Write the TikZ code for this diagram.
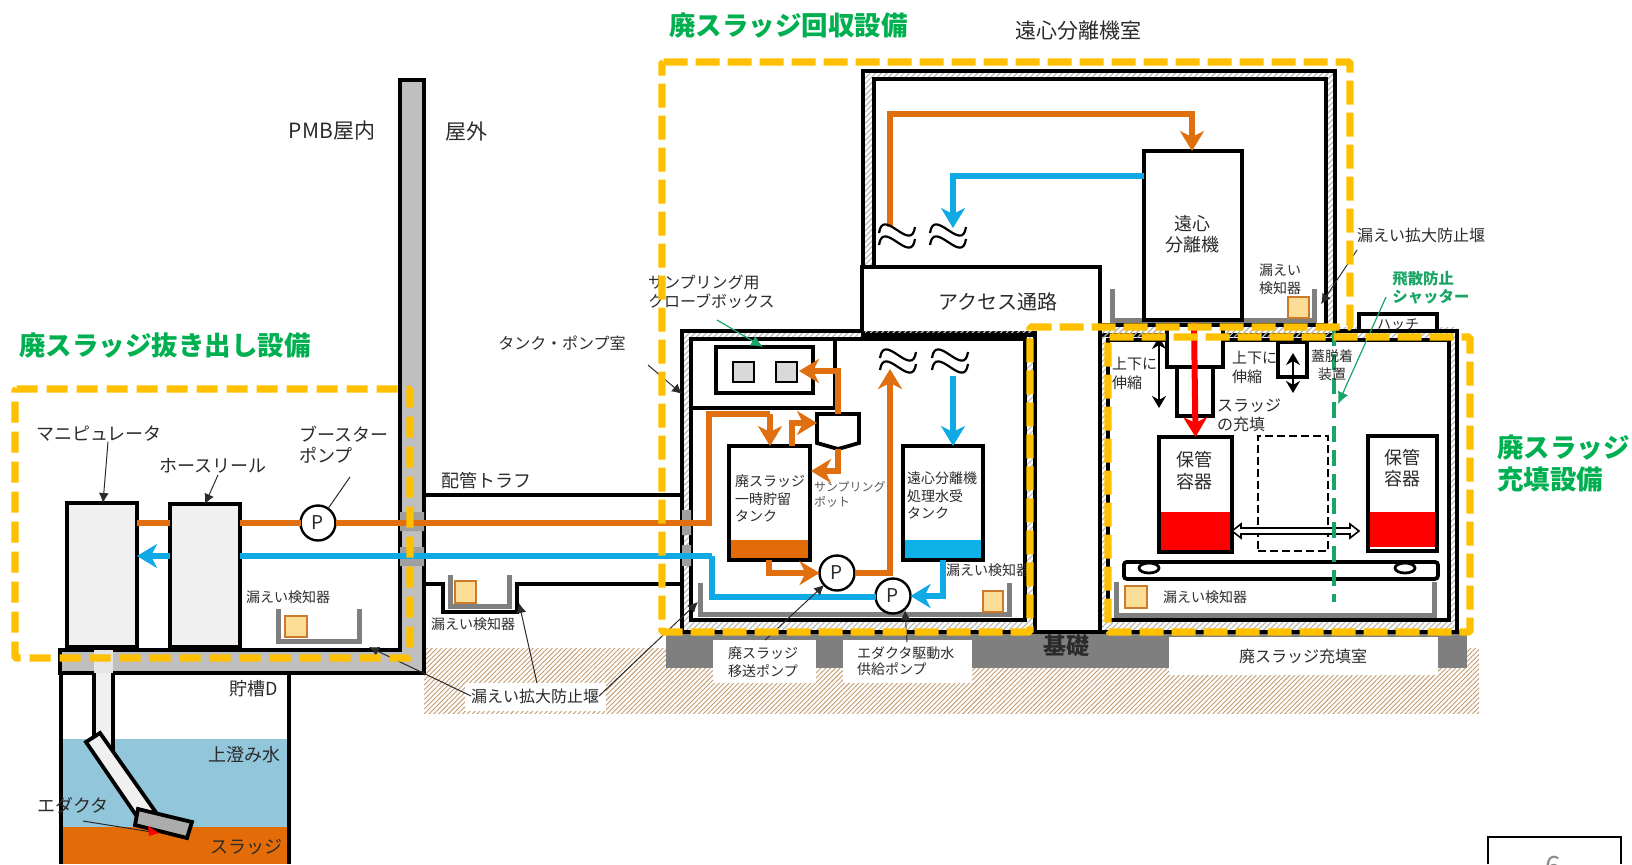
\documentclass[tikz,border=0pt]{standalone}
\usepackage{fontspec}
\setmainfont{Noto Sans CJK JP}
\usetikzlibrary{arrows.meta,patterns.meta,shapes.geometric}
\definecolor{ink}{HTML}{2B2B2B}
\definecolor{pipeO}{HTML}{E0700F}
\definecolor{pipeB}{HTML}{0FAAE6}
\definecolor{sludge}{HTML}{E36C09}
\definecolor{yel}{HTML}{FFC000}
\definecolor{grn}{HTML}{00B050}
\definecolor{grn2}{HTML}{1AA566}
\definecolor{wallg}{HTML}{BFBFBF}
\definecolor{pang}{HTML}{7F7F7F}
\definecolor{hatchb}{HTML}{C49A6C}
\definecolor{water}{HTML}{92C6DA}
\definecolor{detf}{HTML}{FCDD95}
\definecolor{detb}{HTML}{CC7A2C}
\tikzset{
  lab/.style 2 args={font=\fontsize{#1}{#2}\selectfont,text=ink,inner sep=0pt,outer sep=0pt},
  tA/.style={lab={7}{8.8},align=left},
  tAc/.style={lab={7}{9},align=center},
  tB/.style={lab={8}{9.5},align=left},
  tC/.style={lab={9}{10.5},align=left},
  tCc/.style={lab={9}{10.5},align=center},
  tD/.style={lab={10.5}{12}},
  title/.style={font=\fontsize{13.25}{16}\selectfont\bfseries,text=grn,inner sep=0pt,align=left},
  blk/.style={draw=black,line width=1.9pt,inner sep=0pt,outer sep=0pt},
  pump/.style={circle,draw=black,line width=1.2pt,fill=white,minimum size=17.5pt,inner sep=0pt,outer sep=0pt,font=\fontsize{9.5}{10}\selectfont,text=ink},
  pipeo/.style={draw=pipeO,line width=3pt,line join=miter},
  pipeb/.style={draw=pipeB,line width=3pt,line join=miter},
  tip/.style={-{Stealth[length=10pt,width=12pt,inset=3pt]}},
  lead/.style={draw=ink,line width=.5pt,-{Latex[length=5pt,width=5pt]}},
  leadg/.style={draw=grn2,line width=.6pt,-{Latex[length=6pt,width=5.5pt]}},
  pan/.style={draw=pang,line width=2.5pt,line cap=butt,line join=miter},
  det/.style={draw=detb,line width=1pt,fill=detf,inner sep=0pt,outer sep=0pt},
  wall/.style={pattern={Lines[angle=45,distance=2pt,line width=.6pt]},pattern color=gray!55},
  ydash/.style={draw=yel,line width=3.6pt,dash pattern=on 12pt off 4pt,rounded corners=.8pt},
  wave/.style={draw=black,line width=1.1pt},
}
\newcommand\bx[6][]{\node[#1,anchor=north west,inner sep=0pt,outer sep=0pt,minimum width={(#5-#3)*0.5pt},minimum height={(#6-#4)*0.5pt}] (#2) at (#3,#4) {};}
\newcommand\wv[2]{\begin{scope}[shift={(#1,#2)}]
  \draw[wave] (-18,-4) .. controls (-16,-17) and (-9,-13) .. (0,-7) .. controls (9,-1) and (16,3) .. (18,-10);
  \draw[wave] (-18,8) .. controls (-16,-5) and (-9,-1) .. (0,5) .. controls (9,11) and (16,15) .. (18,2);
\end{scope}}
\begin{document}
\begin{tikzpicture}[x=0.5pt,y=-0.5pt]
\useasboundingbox (0,0) rectangle (1632,864);
% ground and foundation
\fill[pattern={Lines[angle=45,distance=1.7pt,line width=.45pt]},pattern color=hatchb] (424,648) rectangle (1479,713);
\fill[pang] (666,630) rectangle (1467,668);
\bx[fill=white]{lbBox}{465}{683}{606}{711}
\bx[fill=white]{lbPumpA}{713}{640}{816}{683}
\bx[fill=white]{lbPumpB}{843}{640}{972}{683}
\bx[fill=white]{lbRoom}{1169}{637}{1438}{675}
% storage tank D
\fill[water] (61,739) rectangle (289,827);
\fill[sludge] (61,827) rectangle (289,864);
\draw[black,line width=1.9pt] (61,673) -- (61,864) (289,673) -- (289,864);
% PMB wall and floor
\draw[blk,fill=wallg,line join=miter] (400,80) -- (424,80) -- (424,673) -- (60,673) -- (60,650) -- (400,650) -- cycle;
\fill[wallg!40!white] (94,650) rectangle (113,673);
\fill[gray!12] (94,673) rectangle (113,747);
\draw[black,line width=1.9pt] (94,673) -- (94,745) (113,673) -- (113,757);
\draw[blk,fill=gray!12,line join=miter] (86,742) -- (100,733) -- (155,811) -- (138,818) -- cycle;
\draw[blk,fill=gray!65,line join=miter] (138,809) -- (192,822) -- (187,838) -- (135,825) -- cycle;
\bx[blk,fill=gray!12]{manip}{67}{503}{137}{647}
\bx[blk,fill=gray!12]{hose}{170}{504}{240}{647}
% pipe trough
\draw[black,line width=1.9pt,line join=miter] (424,495) -- (682,495);
\draw[black,line width=1.9pt,line join=miter] (424,584) -- (443,584) -- (443,612) -- (517,612) -- (517,584) -- (682,584);
% tank room
\draw[blk,wall] (682,331) rectangle (1035,632);
\bx[blk,fill=white]{tankRoom}{691}{339}{1025}{620}
% centrifuge room
\draw[blk,wall] (863,71) rectangle (1335,335);
\bx[blk,fill=white]{cfRoom}{874}{79}{1326}{325}
% filling room
\fill[wall] (1100,327) rectangle (1457,632);
\draw[blk,line join=miter] (1100,327) -- (1100,632) -- (1457,632) -- (1457,331) -- (1335,331);
\bx[blk,fill=white]{hatch}{1359}{314}{1437}{331}
\bx[blk,fill=white]{fillRoom}{1108}{340}{1449}{620}
% access corridor
\draw[blk,fill=white,line join=miter] (862,331) -- (862,267) -- (1100,267) -- (1100,632) -- (1035,632) -- (1035,331);
% glove box room
\draw[black,line width=1.6pt] (835,339) -- (835,408) -- (691,408);
\bx[blk,fill=white]{glove}{716}{347}{813}{393}
\bx[draw=black,line width=1.3pt,fill=gray!30]{portA}{733}{362}{754}{382}
\bx[draw=black,line width=1.3pt,fill=gray!30]{portB}{776}{362}{797}{382}
% pans and detectors
\draw[pan] (278.5,609) -- (278.5,641.5) -- (359.5,641.5) -- (359.5,609);
\bx[det]{detA}{285}{616}{307}{637}
\draw[pan] (450.5,575) -- (450.5,606.5) -- (509.5,606.5) -- (509.5,575);
\bx[det]{detB}{455}{581}{476}{603}
\draw[pan] (700.5,583) -- (700.5,614.5) -- (1009.5,614.5) -- (1009.5,583);
\bx[det]{detC}{983}{591}{1003}{612}
\draw[pan] (1112.5,289) -- (1112.5,320) -- (1314.5,320) -- (1314.5,289);
\bx[det]{detD}{1288}{297}{1309}{318}
\draw[pan] (1116.5,582) -- (1116.5,615) -- (1434.5,615) -- (1434.5,582);
\bx[det]{detE}{1125}{586}{1147}{608}
% wall sleeves
\fill[gray!75] (400,512) rectangle (424,531) (400,547) rectangle (424,566);
\fill[gray!75] (682,510) rectangle (691,535) (682,545) rectangle (691,566);
% tanks and machines
\bx[blk,fill=white]{tankA}{729}{446}{810}{560}
\fill[sludge] (731,540) rectangle (808,558);
\bx[blk,fill=white]{tankB}{903}{446}{983}{560}
\fill[pipeB!90!cyan] (905,540) rectangle (981,558);
\bx[blk,fill=white]{centrifuge}{1144}{151}{1242}{320}
\draw[blk,fill=white,line join=miter] (817,414) -- (859,414) -- (859,443) -- (838,449) -- (817,443) -- cycle;
\coordinate (potTop) at (838,414);
\coordinate (potBot) at (838,449);
\coordinate (potWest) at (817,423);
% filler, lid device, containers, cart
\bx[blk,fill=white]{fillerU}{1167}{325}{1223}{367}
\bx[blk,fill=white]{fillerL}{1177}{367}{1213}{416}
\bx[blk,fill=white]{lidDev}{1278}{342}{1307}{377}
\bx[blk,fill=white]{contA}{1159}{437}{1232}{552}
\fill[red] (1161,512) rectangle (1230,550);
\bx[draw=black,line width=1.2pt,dash pattern=on 4pt off 2pt]{contGhost}{1258}{436}{1328}{551}
\bx[blk,fill=white]{contB}{1368}{436}{1437}{551}
\fill[red] (1370,512) rectangle (1435,547);
\node[draw=black,line width=1.9pt,rounded corners=1.5pt,fill=white,anchor=north west,inner sep=0pt,minimum width=157pt,minimum height=8.5pt] (cart) at (1122,560) {};
\node[draw=black,line width=1.4pt,ellipse,fill=white,minimum width=10pt,minimum height=5pt,inner sep=0pt] (wheelA) at (1149,568) {};
\node[draw=black,line width=1.4pt,ellipse,fill=white,minimum width=10pt,minimum height=5pt,inner sep=0pt] (wheelB) at (1405,568) {};
% pumps
\node[pump] (boost) at (318,523) {P};
\node[pump] (pumpA) at (837,573) {P};
\node[pump] (pumpB) at (893,596) {P};
% free pipe points
\coordinate (oA) at (709,522);
\coordinate (oB) at (709,414);
\coordinate (oC) at (770,414);
\coordinate (oD) at (770,446);
\coordinate (oE) at (792,446);
\coordinate (oF) at (792,423);
\coordinate (oG) at (838,371);
\coordinate (oH) at (799,371);
\coordinate (oI) at (838,471);
\coordinate (oJ) at (811,471);
\coordinate (oK) at (769,560);
\coordinate (oL) at (769,573);
\coordinate (oM) at (890,573);
\coordinate (oN) at (890,369);
\coordinate (oP) at (890,227);
\coordinate (oQ) at (890,114);
\coordinate (oR) at (1192,114);
\coordinate (oS) at (1192,151);
\coordinate (bA) at (712,556);
\coordinate (bB) at (712,597);
\coordinate (bC) at (876,597);
\coordinate (bD) at (953,376);
\coordinate (bE) at (953,446);
\coordinate (bF) at (943,560);
\coordinate (bG) at (943,596);
\coordinate (bH) at (953,176);
\coordinate (bI) at (953,228);
% orange pipes
\draw[pipeo] (manip.east |- boost) -- (hose.west |- boost);
\draw[pipeo] (hose.east |- boost) -- (boost);
\draw[pipeo] (boost.east) -- (boost.east -| oA) -- (oB) -- (oC);
\draw[pipeo,tip] (oC) -- (oD);
\draw[pipeo,tip] (oE) -- (oF) -- (potWest);
\draw[pipeo,tip] (potTop) -- (oG) -- (oH);
\draw[pipeo,tip] (potBot) -- (oI) -- (oJ);
\draw[pipeo,tip] (oK) -- (oL) -- (pumpA.west);
\draw[pipeo,tip] (pumpA.east) -- (oM) -- (oN);
\draw[pipeo,tip] (oP) -- (oQ) -- (oR) -- (oS);
% blue pipes
\draw[pipeb,tip] (hose.west |- 0,556) -- (manip.east |- 0,556);
\draw[pipeb] (bA) -- (hose.east |- bA);
\draw[pipeb] (bA) -- (bB) -- (bC);
\draw[pipeb,tip] (bD) -- (bE);
\draw[pipeb,tip] (bF) -- (bG) -- (pumpB.east);
\draw[pipeb,tip] (centrifuge.west |- bH) -- (bH) -- (bI);
% breaks
\wv{897}{237}
\wv{948}{237}
\wv{898}{362}
\wv{950}{362}
% red arrows
\draw[red,line width=3pt,tip] (1194,323) -- (contA.north);
\draw[draw=ink,line width=.5pt] (83,821) -- (158,833);
\fill[red] (159,833) -- (148,826) -- (149,836) -- cycle;
% small motion arrows
\draw[black,line width=1.3pt,{Stealth[length=6pt,width=7pt]}-{Stealth[length=6pt,width=7pt]}] (1159,337) -- (1159,408);
\draw[black,line width=1.3pt,{Stealth[length=6pt,width=7pt]}-{Stealth[length=6pt,width=7pt]}] (1293,353) -- (1293,393);
\draw[black,line width=.8pt,fill=white,line join=miter] (1232,531) -- (1241,524) -- (1241,528) -- (1350,528) -- (1350,524) -- (1359,531) -- (1350,538) -- (1350,534) -- (1241,534) -- (1241,538) -- cycle;
% shutter line
\draw[grn2,line width=1.6pt,dash pattern=on 8pt off 4pt] (1334,330) -- (1334,602);
% texts
\node[tD] (pmb) at (332,131) {PMB屋内};
\node[tD] (outd) at (466,131) {屋外};
\node[tC] (mani) at (99,434) {マニピュレータ};
\node[tC] (reel) at (213,466) {ホースリール};
\node[tC,anchor=north west] (bstr) at (299,426) {ブースター\\ポンプ};
\node[tC] (trough) at (486,481) {配管トラフ};
\node[tA] (lkA) at (288,597) {漏えい検知器};
\node[tA] (lkB) at (473,624) {漏えい検知器};
\node[tB] (dam) at (535,696) {漏えい拡大防止堰};
\node[tC] (tkd) at (254,689) {貯槽D};
\node[tC] (sup) at (244,755) {上澄み水};
\node[tC] (slg) at (246,847) {スラッジ};
\node[tC] (edk) at (73,805) {エダクタ};
\node[tB] (tpr) at (562,343) {タンク・ポンプ室};
\node[tB,anchor=north west] (gbx) at (648,275) {サンプリング用\\クローブボックス};
\node[tA,anchor=north west] (tAt) at (735,475) {廃スラッジ\\一時貯留\\タンク};
\node[lab={6}{7.5},text=black!65,align=left,anchor=north west] (pott) at (814,481) {サンプリング\\ポット};
\node[tA,anchor=north west] (tBt) at (907,472) {遠心分離機\\処理水受\\タンク};
\node[tA,anchor=west] (lkC) at (946,570) {漏えい検知器};
\node[tAc] (pAt) at (763,662) {廃スラッジ\\移送ポンプ};
\node[lab={7}{8},align=left,anchor=north west] (pBt) at (857,647) {エダクタ駆動水\\供給ポンプ};
\node[tD] (cfr) at (1078,31) {遠心分離機室};
\node[lab={10}{11.5}] (acc) at (998,302) {アクセス通路};
\node[tCc] (cft) at (1192,234) {遠心\\分離機};
\node[tAc] (lkD) at (1280,279) {漏えい\\検知器};
\node[tB,anchor=west] (dam2) at (1357,235) {漏えい拡大防止堰};
\node[font=\fontsize{7.7}{9.2}\selectfont\bfseries,text=grn2,inner sep=0pt,align=left,anchor=north west] (shut) at (1392,271) {飛散防止\\シャッター};
\node[tA] (htt) at (1398,325) {ハッチ};
\node[lab={7.5}{9.5},align=left,anchor=north west] (up1) at (1112,357) {上下に\\伸縮};
\node[lab={7.5}{9.5},align=left,anchor=north west] (up2) at (1232,351) {上下に\\伸縮};
\node[tAc] (lid) at (1332,365) {蓋脱着\\装置};
\node[tB,anchor=north west] (fillt) at (1217,399) {スラッジ\\の充填};
\node[lab={9}{11},align=center] (cA) at (1194,471) {保管\\容器};
\node[lab={9}{10.5},align=center] (cB) at (1402,468) {保管\\容器};
\node[tA] (lkE) at (1205,597) {漏えい検知器};
\node[tB] (roomt) at (1303,656) {廃スラッジ充填室};
\node[font=\fontsize{11.5}{12}\selectfont\bfseries,text=ink,inner sep=0pt] (kiso) at (1066,646) {基礎};
% leaders
\draw[lead] (mani.south -| 108,0) -- (manip.north -| 103,0);
\draw[lead] (218,475) -- (hose.north -| 205,0);
\draw[draw=ink,line width=.5pt] (350,477) -- (boost);
\draw[lead] (dam.west) -- (369,647);
\draw[lead] (537,683) -- (519,603);
\draw[lead] (dam.east) -- (698,602);
\draw[lead] (648,365) -- (682,394);
\draw[leadg] (717,320) -- (glove.north -| 763,0);
\draw[lead] (765,640) -- (pumpA);
\draw[lead] (907,642) -- (905,610);
\draw[lead] (1357,250) -- (1321,304);
\draw[leadg] (1386,297) -- (1338,404);
% scope boxes
\draw[ydash] (662,62) -- (1350,62) -- (1350,327) -- (1030,327) -- (1030,632) -- (662,632) -- cycle;
\draw[ydash] (1108,337) -- (1470,337) -- (1470,632) -- (1108,632) -- cycle;
\draw[ydash,dash pattern=on 10.5pt off 4.5pt] (15,389) -- (410,389) -- (410,658) -- (15,658) -- cycle;
\node[title,anchor=west] (ttlA) at (669,26) {廃スラッジ回収設備};
\node[title,anchor=west] (ttlB) at (19,346) {廃スラッジ抜き出し設備};
\node[title,anchor=north west] (ttlC) at (1497,434) {廃スラッジ\\充填設備};
% page number
\draw[black,line width=.9pt] (1488,864) -- (1488,837) -- (1621,837) -- (1621,864);
\node[font=\fontsize{14}{16}\selectfont,text=black!45,inner sep=0pt] (pageno) at (1553,866) {6};
\end{tikzpicture}
\end{document}
